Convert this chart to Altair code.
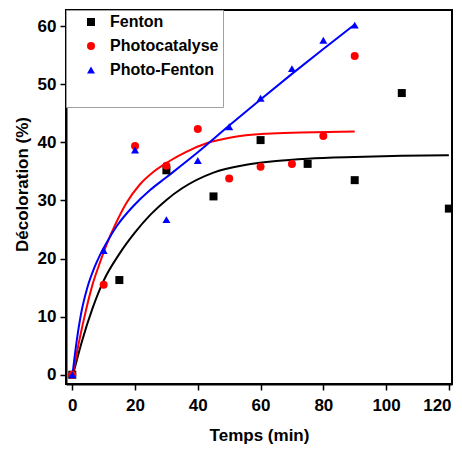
import altair as alt
import pandas as pd

series = ["Fenton", "Photocatalyse", "Photo-Fenton"]
colors = ["#000000", "#ff0000", "#0000ff"]
shapes = ["square", "circle", "triangle-up"]

# measured points
fenton_t = [0, 15, 30, 45, 60, 75, 90, 105, 120]
fenton_y = [0, 16.3, 35.2, 30.7, 40.4, 36.3, 33.5, 48.5, 28.6]
photocat_t = [0, 10, 20, 30, 40, 50, 60, 70, 80, 90]
photocat_y = [0, 15.5, 39.4, 36.0, 42.3, 33.8, 35.8, 36.3, 41.1, 54.9]
photofenton_t = [0, 10, 20, 30, 40, 50, 60, 70, 80, 90]
photofenton_y = [0, 21.4, 38.7, 26.7, 36.9, 42.7, 47.6, 52.7, 57.6, 60.2]

# fitted curves
fenton_fit_t = [0, 3, 6.5, 10, 15, 20, 25, 30, 35, 45, 55, 65, 75, 90, 105, 120]
fenton_fit_y = [-0.5, 5.6, 11.5, 16.2, 20.8, 24.5, 27.6, 30.1, 32.1, 34.8, 36.1, 36.8, 37.2, 37.5, 37.7, 37.8]
photocat_fit_t = [0, 2.2, 4.4, 6.5, 8.6, 11, 13.5, 17.3, 21.6, 26, 31, 36, 43, 51, 62, 73, 90]
photocat_fit_y = [-0.5, 5.8, 11.2, 15.6, 19.0, 22.5, 25.6, 29.6, 32.8, 35.0, 36.8, 38.3, 39.9, 40.9, 41.5, 41.7, 41.9]
photofenton_fit_t = [0, 1.2, 2.8, 4.9, 7, 9.1, 10.4, 14.2, 19.4, 24.8, 30, 40, 50, 60, 70, 80, 90]
photofenton_fit_y = [-0.3, 5.0, 10.5, 15.2, 18.4, 20.9, 22.2, 25.6, 29.0, 31.8, 34.0, 38.3, 42.9, 47.4, 51.8, 56.1, 60.3]

pts_rows = []
for name, ts, ys in [("Fenton", fenton_t, fenton_y),
                     ("Photocatalyse", photocat_t, photocat_y),
                     ("Photo-Fenton", photofenton_t, photofenton_y)]:
    for t, v in zip(ts, ys):
        pts_rows.append({"serie": name, "t": t, "v": v})
pts_df = pd.DataFrame(pts_rows)

fit_rows = []
for name, ts, ys in [("Fenton", fenton_fit_t, fenton_fit_y),
                     ("Photocatalyse", photocat_fit_t, photocat_fit_y),
                     ("Photo-Fenton", photofenton_fit_t, photofenton_fit_y)]:
    for i, (t, v) in enumerate(zip(ts, ys)):
        fit_rows.append({"fit": name, "t": t, "v": v, "i": i})
fit_df = pd.DataFrame(fit_rows)

FONT = "Liberation Sans"

xscale = alt.Scale(domain=[-2, 121], nice=False, zero=False)
yscale = alt.Scale(domain=[-1.6, 62.8], nice=False, zero=False)

xaxis = alt.Axis(
    values=list(range(0, 121, 10)),
    labelExpr="datum.value % 20 == 0 ? datum.label : ''",
    tickSize={"condition": {"test": "datum.value % 20 == 0", "value": 6}, "value": 3},
    labelOffset={"condition": {"test": "datum.value == 120", "value": -12}, "value": 0},
    labelPadding=7,
    titlePadding=14,
    labelFlush=False,
)
yaxis = alt.Axis(
    values=list(range(0, 61, 5)),
    labelExpr="datum.value % 10 == 0 ? datum.label : ''",
    tickSize={"condition": {"test": "datum.value % 10 == 0", "value": 6}, "value": 3},
    labelPadding=4,
    titlePadding=6,
    titleY=174,
)

legend = alt.Legend(
    orient="top-left",
    offset=0,
    padding=4,
    strokeColor="#a0a0a0",
    fillColor="white",
    labelFont=FONT,
    labelFontSize=16,
    labelFontWeight="bold",
    labelColor="black",
    symbolSize=64,
    symbolOffset=13,
    symbolStrokeWidth=0,
    labelOffset=11,
    rowPadding=8,
    titleOrient="bottom",
    titleFontSize=16,
    titlePadding=9,
)

line_layers = []
for k, (name, col) in enumerate(zip(series, colors)):
    enc = dict(
        x=alt.X("t:Q", scale=xscale, axis=xaxis, title="Temps (min)"),
        y=alt.Y("v:Q", scale=yscale, axis=yaxis, title="Décoloration (%)"),
        order="i:Q",
    )
    if k > 0:
        enc["x"] = alt.X("t:Q", scale=xscale)
        enc["y"] = alt.Y("v:Q", scale=yscale)
    line_layers.append(
        alt.Chart(fit_df)
        .transform_filter(alt.datum.fit == name)
        .mark_line(strokeWidth=2, interpolate="monotone", color=col)
        .encode(**enc)
    )

points = alt.Chart(pts_df).mark_point(filled=True, opacity=1, size=64, strokeWidth=0).encode(
    x=alt.X("t:Q", scale=xscale),
    y=alt.Y("v:Q", scale=yscale),
    fill=alt.Fill("serie:N", scale=alt.Scale(domain=series, range=colors), legend=legend, title=" "),
    shape=alt.Shape("serie:N", scale=alt.Scale(domain=series, range=shapes), legend=legend, title=" "),
)

chart = alt.layer(*line_layers, points).properties(
    width=386,
    height=374,
    autosize=alt.AutoSizeParams(type="none"),
    padding={"left": 58, "top": 2, "right": 2, "bottom": 62},
).configure_view(
    stroke="black", strokeWidth=2
).configure_axis(
    grid=False,
    labelFont=FONT,
    labelFontWeight="bold",
    labelFontSize=17,
    labelColor="black",
    titleFont=FONT,
    titleFontWeight="bold",
    titleFontSize=17,
    titleColor="black",
    tickColor="black",
    tickWidth=1.5,
    domainColor="black",
    domainWidth=2,
)

chart.save("out.html", embed_options={"renderer": "svg", "actions": False})
